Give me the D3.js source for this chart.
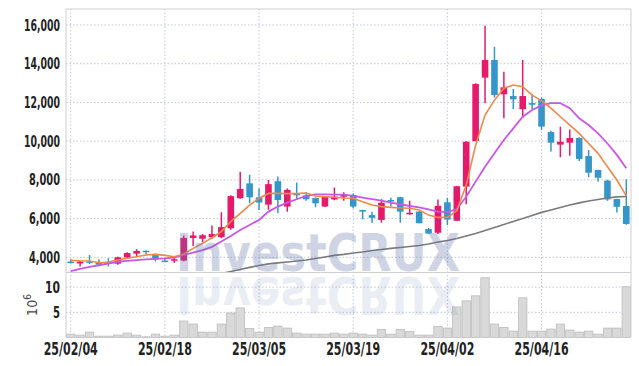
<!DOCTYPE html>
<html><head><meta charset="utf-8">
<script src="https://cdn.jsdelivr.net/npm/d3@7"></script>
<style>body{margin:0;background:#fff}svg{display:block}</style>
</head><body><svg id="c" width="639" height="366"></svg>
<script>
const dates = ["25/02/04","25/02/05","25/02/06","25/02/07","25/02/10","25/02/11","25/02/12","25/02/13","25/02/14","25/02/17",
"25/02/18","25/02/19","25/02/20","25/02/21","25/02/24","25/02/25","25/02/26","25/02/27","25/02/28","25/03/04",
"25/03/05","25/03/06","25/03/07","25/03/10","25/03/11","25/03/12","25/03/13","25/03/14","25/03/17","25/03/18",
"25/03/19","25/03/20","25/03/21","25/03/24","25/03/25","25/03/26","25/03/27","25/03/28","25/03/31","25/04/01",
"25/04/02","25/04/03","25/04/04","25/04/07","25/04/08","25/04/09","25/04/10","25/04/11","25/04/14","25/04/15",
"25/04/16","25/04/17","25/04/18","25/04/21","25/04/22","25/04/23","25/04/24","25/04/25","25/04/28","25/04/29"];
const xTicks = ["25/02/04","25/02/18","25/03/05","25/03/19","25/04/02","25/04/16"];
const priceTicks = [4000,6000,8000,10000,12000,14000,16000];
const volTicks = [5,10];
const open  = [3780,3680,3790,3720,3760,3670,3990,4190,4340,4130, 3830,3870,3830,5000,4960,5040,5040,5500,7050,7820,
               7100,6720,7930,6620,7310,7200,7060,6620,6990,7130, 7220,6440,6180,5930,6960,7100,6220,6360,5460,5270,
               6840,5890,7650,10000,13280,14190,12420,12330,11650,11970, 12180,10470,9820,9920,10160,9230,8510,7960,7010,6650];
const high  = [3900,3790,4120,3900,3950,4030,4260,4420,4350,4180, 3910,4000,5130,5330,5200,5640,6330,7200,8420,8270,
               7560,7990,8170,7560,7870,7360,7100,7150,7600,7360, 7300,6450,6350,7000,7080,7130,6920,6380,5520,6990,
               7080,7680,9990,12990,15960,14880,13590,12690,14190,12420, 12260,10540,10750,10600,10200,9540,8520,8000,7020,8030];
const low   = [3680,3530,3650,3560,3530,3620,3950,4060,4150,3780, 3760,3700,3800,4590,4780,4960,4980,5420,7020,6790,
               6440,6450,6270,6350,6990,6920,6580,6600,6950,6920, 6540,5960,5780,5780,6620,5780,6200,5760,5200,5200,
               5670,5870,6740,10000,11960,12250,11180,11660,11210,11660, 10580,9460,9170,9240,8970,8130,7920,6920,6310,5680];
const close = [3760,3780,3750,3620,3710,4000,4220,4330,4270,3890, 3800,3900,5000,5130,5140,5200,5560,7160,7530,7100,
               6830,7780,6960,7480,7200,7000,6790,7130,7130,7230, 6620,6360,6040,6820,6900,6360,6300,5760,5230,6660,
               5950,7670,9970,12950,14190,12380,12780,12160,12330,11880, 10750,9920,9970,10160,9080,8370,8110,6990,6610,5720];
const volume = [0.67,0.47,1.07,0.27,0.27,0.47,0.87,0.47,0.13,0.67, 0.27,0.47,3.27,2.67,1.07,1.07,2.67,4.87,5.87,1.8,
               1.07,2.0,2.27,1.87,0.87,0.67,0.67,0.67,0.87,0.67, 0.87,0.67,0.47,1.6,0.67,1.6,1.2,0.47,0.47,2.2,
               1.87,6.07,7.27,8.27,11.87,2.67,2.0,1.27,7.87,1.27, 1.27,1.67,2.67,1.47,1.07,1.27,0.67,1.87,1.87,10.07];
const ma5 = [3850,3820,3810,3720,3760,3860,3950,4030,4120,4150, 4100,4030,4170,4460,4720,5010,5330,5840,6270,6700,
             7050,7300,7300,7290,7290,7320,7170,7130,7100,7060, 7050,6870,6700,6620,6580,6550,6530,6440,6180,6060,
             6060,6400,7730,9790,11350,12120,12730,12900,12810,12380, 12080,11700,11260,10830,10400,9880,9370,8680,7990,7170];
const ma20 = [3280,3400,3510,3590,3680,3770,3820,3850,3890,3920, 3940,3980,4120,4240,4370,4540,4820,5100,5410,5670,
              5930,6360,6620,6820,7000,7170,7250,7250,7240,7240, 7170,7080,7000,6930,6820,6740,6650,6580,6480,6360,
              6340,6490,7130,7910,8680,9370,10060,10660,11260,11610, 11850,11960,11960,11700,11180,10830,10400,9880,9290,8600];
const ma60 = [null,null,null,null,null,null,null,null,null,null, null,null,null,null,null,null,3160,3270,3370,3480,
              3580,3660,3710,3760,3810,3860,3940,4020,4100,4150, 4220,4270,4350,4400,4460,4510,4560,4610,4690,4790,
              4870,4970,5100,5230,5390,5540,5700,5850,6010,6160, 6320,6440,6570,6700,6810,6910,6990,7060,7120,7140];

const svg = d3.select("#c");
const L = 66, R = 631, T = 9, MID = 272.5, B = 337.5;
const RED = "#e61a6a", BLUE = "#3597c9";
const fontF = "'Liberation Sans Narrow','Arial Narrow','DejaVu Sans Condensed',sans-serif";

const x = d3.scaleBand().domain(dates).range([L, R]).padding(0);
const cx = d => x(d) + x.bandwidth() / 2;
const y = d3.scaleLinear().domain([3215, 16826]).range([MID, T]);
const yv = d3.scaleLinear().domain([0, 12.9]).range([B, MID]);

svg.append("defs").append("clipPath").attr("id", "pc")
  .append("rect").attr("x", L).attr("y", T).attr("width", R - L).attr("height", MID - T);

// grid
const grid = svg.append("g");
grid.selectAll(".hg").data(priceTicks).join("line")
  .attr("x1", L).attr("x2", R).attr("y1", d => y(d)).attr("y2", d => y(d))
  .attr("stroke", "#c3c6d4").attr("stroke-dasharray", "1.5,2");
grid.selectAll(".vg").data(volTicks).join("line")
  .attr("x1", L).attr("x2", R).attr("y1", d => yv(d)).attr("y2", d => yv(d))
  .attr("stroke", "#c3c6d4").attr("stroke-dasharray", "1.5,2");
grid.selectAll(".xg").data(xTicks).join("line")
  .attr("x1", d => cx(d)).attr("x2", d => cx(d)).attr("y1", T).attr("y2", B)
  .attr("stroke", "#c3c8dc").attr("stroke-dasharray", "1.5,2");

// volume bars
svg.append("g").selectAll("rect").data(dates).join("rect")
  .attr("x", d => x(d) + 0.5).attr("width", x.bandwidth() - 1)
  .attr("y", (d, i) => yv(volume[i])).attr("height", (d, i) => B - yv(volume[i]))
  .attr("fill", "#d9d9d9").attr("stroke", "#bdbdbd").attr("stroke-width", 0.8);

// candles
const cg = svg.append("g").attr("clip-path", "url(#pc)");
const col = i => close[i] >= open[i] ? RED : BLUE;
cg.selectAll(".w").data(dates).join("line")
  .attr("x1", d => cx(d)).attr("x2", d => cx(d))
  .attr("y1", (d, i) => y(high[i])).attr("y2", (d, i) => y(low[i]))
  .attr("stroke", (d, i) => col(i)).attr("stroke-width", 1.5);
cg.selectAll(".b").data(dates).join("rect")
  .attr("x", d => cx(d) - 3.3).attr("width", 6.6)
  .attr("y", (d, i) => y(Math.max(open[i], close[i])))
  .attr("height", (d, i) => Math.max(1.5, Math.abs(y(open[i]) - y(close[i]))))
  .attr("fill", (d, i) => col(i));

// moving averages
const lineOf = arr => d3.line().defined((d, i) => arr[i] != null).x(d => cx(d)).y((d, i) => y(arr[i]));
const lg = svg.append("g").attr("clip-path", "url(#pc)").attr("fill", "none");
lg.append("path").datum(dates).attr("d", lineOf(ma60)).attr("stroke", "#7a7a7a").attr("stroke-width", 1.6);
lg.append("path").datum(dates).attr("d", lineOf(ma20)).attr("stroke", "#c957e8").attr("stroke-width", 1.8);
lg.append("path").datum(dates).attr("d", lineOf(ma5)).attr("stroke", "#f0884a").attr("stroke-width", 1.6);

// watermark
const wm = svg.append("g").attr("font-family", "'DejaVu Sans',sans-serif").attr("font-weight", "bold").attr("font-size", 52);
wm.append("text").attr("x", 176).attr("y", 271).attr("textLength", 284).attr("lengthAdjust", "spacingAndGlyphs")
  .attr("fill", "#6273ac").attr("opacity", 0.3).text("InvestCRUX");
wm.append("text").attr("x", 176).attr("y", 271).attr("textLength", 284).attr("lengthAdjust", "spacingAndGlyphs")
  .attr("transform", "translate(0,548) scale(1,-1)")
  .attr("fill", "#6273ac").attr("opacity", 0.12).text("InvestCRUX");

// frame
const fr = svg.append("g").attr("stroke", "#cfcfcf").attr("stroke-width", 1);
fr.append("line").attr("x1", L).attr("x2", R).attr("y1", T).attr("y2", T);
fr.append("line").attr("x1", L).attr("x2", L).attr("y1", T).attr("y2", B);
fr.append("line").attr("x1", R).attr("x2", R).attr("y1", T).attr("y2", B);
fr.append("line").attr("x1", L).attr("x2", R).attr("y1", MID).attr("y2", MID);

// axes
const yAxis = d3.axisLeft(y).tickValues(priceTicks).tickFormat(d3.format(",")).tickSize(0).tickPadding(6);
const ga = svg.append("g").attr("transform", `translate(${L},0)`).call(yAxis);
const vAxis = d3.axisLeft(yv).tickValues(volTicks).tickSize(0).tickPadding(6);
const gv = svg.append("g").attr("transform", `translate(${L},0)`).call(vAxis);
const xAxis = d3.axisBottom(x).tickValues(xTicks).tickSize(0).tickPadding(0);
const gx = svg.append("g").attr("transform", `translate(0,${B})`).call(xAxis);
[ga, gv, gx].forEach(g => {
  g.select(".domain").remove();
  g.selectAll("text").attr("font-family", fontF).attr("font-weight", "bold").attr("fill", "#222")
    .attr("lengthAdjust", "spacingAndGlyphs");
});
ga.selectAll("text").attr("font-size", 16).attr("textLength", d => d >= 10000 ? 36 : 31);
gv.selectAll("text").attr("font-size", 16).attr("textLength", d => d >= 10 ? 15 : 7);
gx.selectAll("text").attr("font-size", 17.5).attr("dy", "1.0em").attr("textLength", 54);

// volume unit label
const ul = svg.append("text").attr("transform", `translate(37,${(MID + B) / 2}) rotate(-90)`)
  .attr("text-anchor", "middle").attr("font-family", fontF).attr("font-size", 14).attr("fill", "#444");
ul.append("tspan").text("10");
ul.append("tspan").attr("font-size", 10).attr("dy", -6).text("6");
</script></body></html>
